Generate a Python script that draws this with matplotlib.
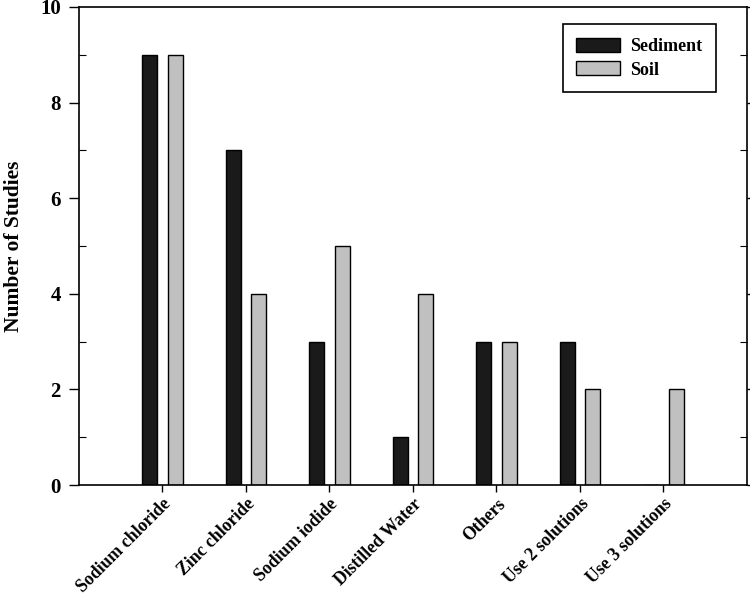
import matplotlib
matplotlib.use("Agg")
import matplotlib.pyplot as plt
import numpy as np
from matplotlib.ticker import MultipleLocator

categories = ["Sodium chloride", "Zinc chloride", "Sodium iodide", "Distilled Water",
              "Others", "Use 2 solutions", "Use 3 solutions"]
sediment = [9, 7, 3, 1, 3, 3, 0]
soil = [9, 4, 5, 4, 3, 2, 2]

plt.rcParams['font.family'] = ['Liberation Serif', 'DejaVu Serif']
plt.rcParams['font.weight'] = 'bold'

fig = plt.figure(figsize=(7.5, 5.97), dpi=100)
ax = fig.add_axes([0.1053, 0.1876, 0.8907, 0.8007])

x = np.arange(1, len(categories) + 1)
w = 0.18
ax.bar(x - 0.155, sediment, w, color='#1a1a1a', edgecolor='black', linewidth=1, label='Sediment')
ax.bar(x + 0.155, soil, w, color='#c0c0c0', edgecolor='black', linewidth=1, label='Soil')

ax.set_xlim(0, 8)
ax.set_ylim(0, 10)
ax.set_xticks(x)
ax.set_xticklabels(categories, rotation=45, ha='right', rotation_mode='anchor', fontsize=12.8, fontweight='bold')
ax.yaxis.set_major_locator(MultipleLocator(2))
ax.yaxis.set_minor_locator(MultipleLocator(1))
ax.tick_params(axis='y', which='major', direction='out', length=7, width=1, labelsize=15, pad=6, right=True)
ax.tick_params(axis='y', which='minor', direction='in', length=5, width=0.8, right=True)
ax.tick_params(axis='x', which='major', direction='out', length=5, width=1, pad=2.5)
for lab in ax.get_yticklabels():
    lab.set_fontweight('bold')
for s in ax.spines.values():
    s.set_linewidth(1.2)

ax.set_ylabel("Number of Studies", fontsize=15.5, fontweight='bold', labelpad=12)

leg = ax.legend(loc='upper right', bbox_to_anchor=(0.9536, 0.9644), borderaxespad=0,
                fancybox=False, framealpha=1, edgecolor='black',
                prop={'weight': 'bold', 'size': 13},
                handlelength=2.44, handleheight=0.83, handletextpad=0.55,
                borderpad=0.75, labelspacing=0.35)
leg.get_frame().set_linewidth(1.2)

fig.savefig("out.png", dpi=100)
